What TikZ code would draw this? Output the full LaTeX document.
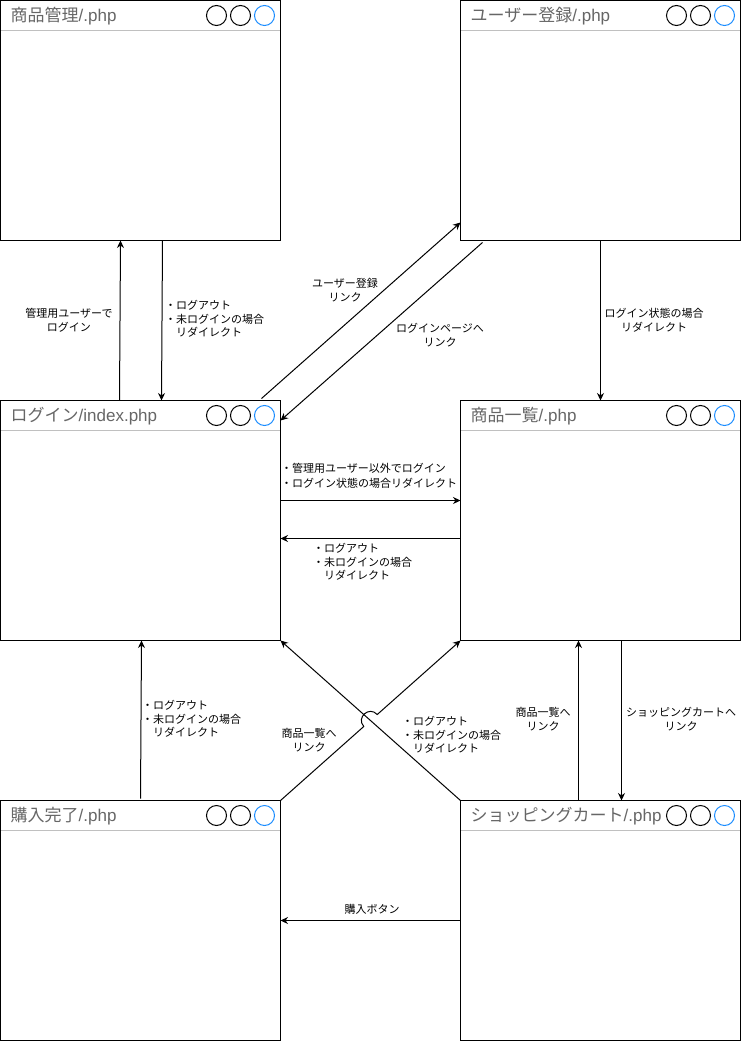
\documentclass[tikz,border=0pt]{standalone}
\usepackage{fontspec}
\setmainfont{Noto Sans CJK JP}
\newfontfamily\latfont{Liberation Sans}
\usetikzlibrary{arrows.meta,calc}
\definecolor{titlegray}{HTML}{666666}
\definecolor{sepgray}{HTML}{C0C0C0}
\definecolor{circblue}{HTML}{1A8CFF}
\tikzset{
  winbox/.style={draw=black, line width=1pt, rectangle, minimum width=280pt, minimum height=240pt, inner sep=0pt, outer sep=0pt, anchor=north west},
  sepline/.style={draw=sepgray, line width=1pt},
  wintitle/.style={text=titlegray, font=\fontsize{17}{20}\selectfont, inner sep=0pt, anchor=west},
  wincirc/.style={circle, draw=black, line width=1pt, minimum size=20pt, inner sep=0pt},
  wincircb/.style={wincirc, draw=circblue},
  arr/.style={draw=black, line width=1pt, -{Stealth[length=7.5pt,width=7pt]}},
  lbl/.style={font=\fontsize{11}{13.5}\selectfont, inner sep=0pt, align=center},
  lblleft/.style={lbl, align=left, anchor=west}
}
\newcommand{\mkwin}[5]{%
  \node[winbox] (#1) at (#2,#3) {};
  \draw[sepline] ([xshift=0.5pt,yshift=-30pt]#1.north west) -- ([xshift=-0.5pt,yshift=-30pt]#1.north east);
  \node[wintitle] (#1-t) at ([xshift=10pt,yshift=-16pt]#1.north west) {#4{\latfont #5}};
  \node[wincirc] (#1-c1) at ([xshift=216pt,yshift=-15pt]#1.north west) {};
  \node[wincirc] (#1-c2) at ([xshift=240pt,yshift=-15pt]#1.north west) {};
  \node[wincircb] (#1-c3) at ([xshift=264pt,yshift=-15pt]#1.north west) {};
}
\begin{document}
\begin{tikzpicture}[x=1pt,y=-1pt]
\useasboundingbox (0,0) rectangle (747,1041);
\mkwin{admin}{0.5}{0.5}{商品管理}{/.php}
\mkwin{reg}{460.5}{0.5}{ユーザー登録}{/.php}
\mkwin{login}{0.5}{400.5}{ログイン}{/index.php}
\mkwin{list}{460.5}{400.5}{商品一覧}{/.php}
\mkwin{buy}{0.5}{800.5}{購入完了}{/.php}
\mkwin{cart}{460.5}{800.5}{ショッピングカート}{/.php}

% connectors
\draw[arr] ([xshift=119pt]login.north west) -- ([xshift=120pt]admin.south west);
\draw[arr] ([xshift=162pt]admin.south west) -- ([xshift=161pt]login.north west);
\draw[arr] ([xshift=-19pt,yshift=2pt]login.north east) -- ([yshift=18pt]reg.south west);
\draw[arr] ([xshift=22pt,yshift=-2pt]reg.south west) -- ([yshift=-20pt]login.north east);
\draw[arr] ([xshift=140pt]reg.south west) -- ([xshift=140pt]list.north west);
\draw[arr] ([yshift=-100pt]login.north east) -- ([yshift=-100pt]list.north west);
\draw[arr] ([yshift=-138pt]list.north west) -- ([yshift=-138pt]login.north east);
\draw[arr] ([xshift=140pt,yshift=2pt]buy.north west) -- ([xshift=141pt]login.south west);
\draw[arr] (cart.north west) -- (login.south east);
\coordinate (jm) at ($(buy.north east)!0.5!(list.south west)$);
\coordinate (j1) at ($(jm)!9pt!(buy.north east)$);
\coordinate (j2) at ($(jm)!9pt!(list.south west)$);
\coordinate (jc1) at ($(j1)!12pt!90:(jm)$);
\coordinate (jc2) at ($(j2)!12pt!-90:(jm)$);
\draw[arr] (buy.north east) -- (j1) .. controls (jc1) and (jc2) .. (j2) -- (list.south west);
\draw[arr] ([xshift=118pt]cart.north west) -- ([xshift=118pt]list.south west);
\draw[arr] ([xshift=161pt]list.south west) -- ([xshift=161pt]cart.north west);
\draw[arr] ([yshift=-120pt]cart.north west) -- ([yshift=-120pt]buy.north east);

% labels
\node[lbl] (l1) at (69,320) {管理用ユーザーで\\ログイン};
\node[lblleft] (l2) at (165,319) {・ログアウト\\・未ログインの場合\\　リダイレクト};
\node[lbl] (l3) at (345,290) {ユーザー登録\\リンク};
\node[lbl] (l4) at (440,335) {ログインページへ\\リンク};
\node[lbl] (l5) at (654,320) {ログイン状態の場合\\リダイレクト};
\node[lblleft] (l6) at (281,476) {・管理用ユーザー以外でログイン\\[1.5pt]・ログイン状態の場合リダイレクト};
\node[lblleft] (l7) at (313,562) {・ログアウト\\・未ログインの場合\\　リダイレクト};
\node[lblleft] (l8) at (142,719) {・ログアウト\\・未ログインの場合\\　リダイレクト};
\node[lbl] (l9) at (309,740) {商品一覧へ\\リンク};
\node[lblleft] (l10) at (402,735) {・ログアウト\\・未ログインの場合\\　リダイレクト};
\node[lbl] (l11) at (543,719) {商品一覧へ\\リンク};
\node[lbl] (l12) at (681,719) {ショッピングカートへ\\リンク};
\node[lbl] (l13) at (372,909) {購入ボタン};
\end{tikzpicture}
\end{document}
